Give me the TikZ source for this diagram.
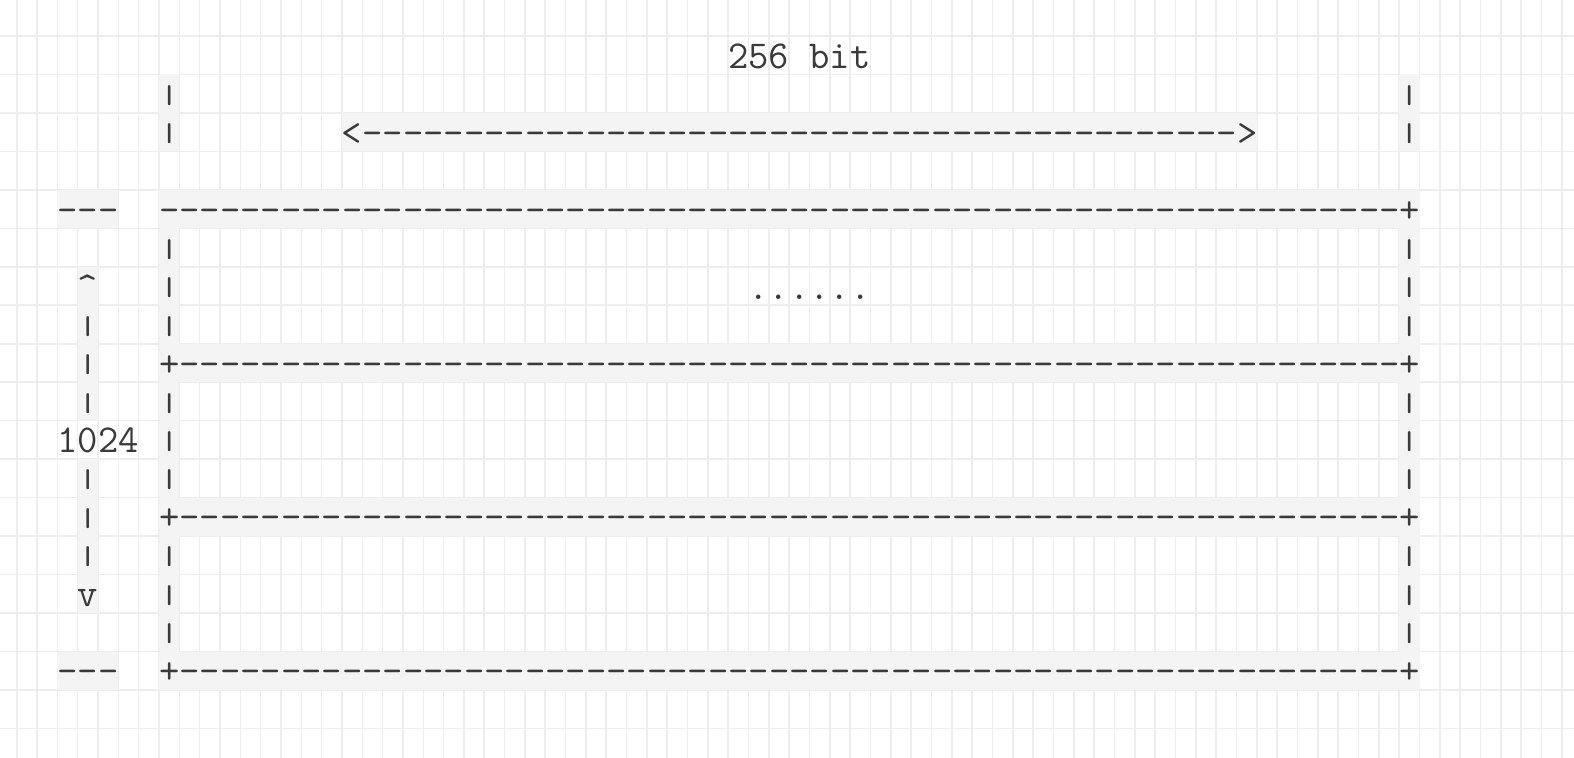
\documentclass[tikz,border=0pt]{standalone}
\usepackage{fontspec}
\usepackage{graphicx}
\setmonofont{Latin Modern Mono}
\definecolor{gridc}{HTML}{EDEDED}
\definecolor{hlc}{HTML}{F4F4F4}
\definecolor{ink}{HTML}{3A3A3A}
\newcommand\asciifont{\ttfamily\fontsize{19.75pt}{19.24pt}\selectfont}
\newcommand\vb{\raisebox{1.75pt}{\scalebox{1}[0.65]{|}}}
\newcount\repc
\newcommand\rep[1]{\repc=0 \loop\ifnum\repc<#1 -\advance\repc by 1 \repeat}
\tikzset{
  cell/.style={anchor=north west, inner sep=0pt, outer sep=0pt,
    text height=16.15pt, text depth=3.08pt, font=\asciifont, text=ink},
  hl/.style={cell, fill=hlc},
  gridline/.style={draw=gridc, line width=0.8pt},
}
\def\cw{20.33}
\def\rh{38.47}
\def\gx{16.7}
\def\gy{36}
\begin{document}
\begin{tikzpicture}[x=0.5pt,y=-0.5pt]
\useasboundingbox (0,0) rectangle (1574,758);
\fill[white] (0,0) rectangle (1574,758);
% grid
\foreach \k in {0,...,76} \draw[gridline] ({\gx+\cw*\k},0) -- ({\gx+\cw*\k},758);
\foreach \k in {0,...,18} \draw[gridline] (0,{\gy+\rh*\k}) -- (1574,{\gy+\rh*\k});
% title
\node[cell] (title) at ({\gx+\cw*35},{\gy+\rh*0}) {256 bit};
% top markers
\foreach \r in {1,2} {
  \node[hl] (tl\r) at ({\gx+\cw*7},{\gy+\rh*\r}) {\vb};
  \node[hl] (tr\r) at ({\gx+\cw*68},{\gy+\rh*\r}) {\vb};
}
\node[hl] (harrow) at ({\gx+\cw*16},{\gy+\rh*2}) {<\rep{43}>};
% side ticks
\node[hl] (ticktop) at ({\gx+\cw*2},{\gy+\rh*4}) {---};
\node[hl] (tickbot) at ({\gx+\cw*2},{\gy+\rh*16}) {---};
% horizontal borders
\node[hl] (h4) at ({\gx+\cw*7},{\gy+\rh*4}) {\rep{61}+};
\foreach \r in {8,12,16}
  \node[hl] (h\r) at ({\gx+\cw*7},{\gy+\rh*\r}) {+\rep{60}+};
% vertical borders
\foreach \r in {5,6,7,9,10,11,13,14,15} {
  \node[hl] (bl\r) at ({\gx+\cw*7},{\gy+\rh*\r}) {\vb};
  \node[hl] (br\r) at ({\gx+\cw*68},{\gy+\rh*\r}) {\vb};
}
% dots
\node[cell] (dots) at ({\gx+\cw*36},{\gy+\rh*6}) {......};
% vertical arrow
\node[hl] (up) at ({\gx+\cw*3},{\gy+\rh*6}) {\textasciicircum};
\foreach \r in {7,8,9,11,12,13}
  \node[hl] (va\r) at ({\gx+\cw*3},{\gy+\rh*\r}) {\vb};
\node[hl] (down) at ({\gx+\cw*3},{\gy+\rh*14}) {v};
\node[cell] (len) at ({\gx+\cw*2},{\gy+\rh*10}) {1024};
\end{tikzpicture}
\end{document}
